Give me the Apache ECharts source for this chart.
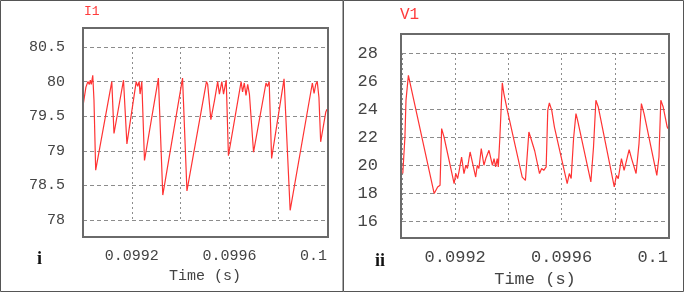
<!DOCTYPE html>
<html>
<head>
<meta charset="utf-8">
<script src="https://cdn.jsdelivr.net/npm/echarts@6/dist/echarts.min.js"></script>
<style>
  html, body { margin: 0; padding: 0; background: #fff; }
  #chart { width: 685px; height: 293px; }
</style>
</head>
<body>
<div id="chart"></div>
<script>
// I1 current trace (time in s, current)
const i1Time = [0.099000, 0.099012, 0.099020, 0.099026, 0.099030, 0.099034, 0.099040, 0.099045, 0.099052,
    0.099118, 0.099127, 0.099166, 0.099180, 0.099218, 0.099224, 0.099230, 0.099234, 0.099241, 0.099252,
    0.099309, 0.099327, 0.099408, 0.099426, 0.099506, 0.099511, 0.099524, 0.099539, 0.099552, 0.099559,
    0.099569, 0.099576, 0.099587, 0.099596, 0.099648, 0.099654, 0.099661, 0.099668, 0.099675, 0.099682,
    0.099699, 0.099750, 0.099756, 0.099763, 0.099773, 0.099824, 0.099849, 0.099940, 0.099947, 0.099954,
    0.099960, 0.099967, 0.099974, 0.099995, 0.100000];
const i1Current = [79.65, 79.92, 80.0, 79.96, 80.02, 79.96, 80.09, 79.73, 78.72,
    80.0, 79.25, 80.02, 79.1, 80.0, 79.93, 80.0, 79.82, 80.0, 78.86,
    80.05, 78.36, 80.05, 78.42, 80.0, 79.96, 79.45, 79.73, 80.0, 79.82,
    80.0, 79.82, 80.02, 78.93, 80.0, 79.85, 79.98, 79.8, 79.96, 79.82,
    78.98, 79.98, 79.93, 80.0, 78.89, 80.04, 78.14, 79.98, 79.83, 79.96,
    80.0, 79.77, 79.13, 79.56, 79.6];

// V1 voltage trace (time in s, voltage)
const v1Time = [0.099003, 0.099011, 0.099015, 0.099024, 0.099031, 0.099121, 0.099134, 0.099143, 0.099149,
    0.099158, 0.099196, 0.099202, 0.099209, 0.099215, 0.099224, 0.099233, 0.099240, 0.099246, 0.099256,
    0.099277, 0.099283, 0.099289, 0.099298, 0.099308, 0.099315, 0.099327, 0.099340, 0.099346, 0.099352,
    0.099358, 0.099362, 0.099368, 0.099377, 0.099383, 0.099396, 0.099452, 0.099464, 0.099477, 0.099483,
    0.099499, 0.099517, 0.099525, 0.099533, 0.099542, 0.099548, 0.099554, 0.099563, 0.099573, 0.099621,
    0.099629, 0.099636, 0.099645, 0.099654, 0.099660, 0.099710, 0.099720, 0.099729, 0.099738, 0.099798,
    0.099806, 0.099813, 0.099825, 0.099835, 0.099854, 0.099863, 0.099880, 0.099891, 0.099900, 0.099910,
    0.099958, 0.099966, 0.099973, 0.099982, 0.099997, 0.100000];
const v1Voltage = [19.39, 22.0, 24.62, 26.4, 25.8, 17.96, 18.43, 18.55, 22.6,
    22.0, 18.67, 19.39, 19.03, 19.6, 20.57, 19.39, 19.98, 19.75, 20.93,
    19.14, 19.98, 19.75, 21.17, 19.98, 20.46, 21.05, 19.98, 20.46, 19.86,
    20.46, 19.86, 22.0, 25.86, 25.1, 23.9, 19.14, 18.9, 22.36, 22.0,
    21.0, 19.39, 19.75, 19.62, 19.86, 23.9, 24.43, 23.9, 22.71, 18.67,
    19.39, 19.03, 21.89, 23.67, 23.2, 18.79, 21.29, 24.62, 24.14, 18.43,
    19.26, 19.03, 20.46, 19.62, 21.1, 20.46, 19.39, 21.53, 24.39, 23.67,
    19.26, 20.57, 24.62, 24.14, 22.71, 22.6];

const mono = 'Liberation Mono';
const labelColor = '#444';
const gridColor = '#8c8c8c';

const chart = echarts.init(document.getElementById('chart'));

function pairs(xs, ys) {
    return xs.map(function (x, i) { return [x, ys[i]]; });
}

// show only 0.0992, 0.0996 and 0.1
function timeLabel(v) {
    const k = Math.round(v * 1e4);
    return (k % 4 === 0 && k > 990) ? String(+v.toFixed(4)) : '';
}

function xAxisFor(idx, size, gap) {
    return {
        type: 'value',
        gridIndex: idx,
        min: 0.099,
        max: 0.1,
        interval: 0.0002,
        name: 'Time (s)',
        nameLocation: 'middle',
        nameGap: gap,
        nameTextStyle: { fontFamily: mono, fontSize: size, color: labelColor },
        axisLine: { show: false },
        axisTick: { show: false },
        axisLabel: {
            fontFamily: mono, fontSize: size, color: labelColor,
            margin: idx === 0 ? 29 : 28,
            formatter: timeLabel,
            alignMaxLabel: 'right'
        },
        splitLine: { lineStyle: { color: gridColor, type: [2, 3], width: 1 } }
    };
}

function yAxisFor(idx, min, max, interval, size, margin) {
    return {
        type: 'value',
        gridIndex: idx,
        min: min,
        max: max,
        interval: interval,
        axisLine: { show: false },
        axisTick: { show: false },
        axisLabel: { fontFamily: mono, fontSize: size, color: labelColor, margin: margin },
        splitLine: { lineStyle: { color: gridColor, type: [4, 3], width: 1 } }
    };
}

const option = {
    animation: false,
    backgroundColor: '#fff',
    title: [
        { text: 'I1', left: 84, top: 5, padding: 0,
          textStyle: { color: '#ff3b3b', fontFamily: mono, fontSize: 13, fontWeight: 'normal' } },
        { text: 'V1', left: 400, top: 7, padding: 0,
          textStyle: { color: '#ff3b3b', fontFamily: mono, fontSize: 16, fontWeight: 'normal' } }
    ],
    grid: [
        { left: 83, top: 47, width: 244, height: 173, outerBoundsMode: 'none' },
        { left: 402, top: 53, width: 266, height: 168, outerBoundsMode: 'none' }
    ],
    xAxis: [xAxisFor(0, 15, 48), xAxisFor(1, 17, 49)],
    yAxis: [yAxisFor(0, 78, 80.5, 0.5, 15, 18), yAxisFor(1, 16, 28, 2, 17, 24)],
    series: [
        {
            type: 'line', xAxisIndex: 0, yAxisIndex: 0,
            data: pairs(i1Time, i1Current),
            showSymbol: false,
            lineStyle: { color: '#ff3333', width: 1.2 }
        },
        {
            type: 'line', xAxisIndex: 1, yAxisIndex: 1,
            data: pairs(v1Time, v1Voltage),
            showSymbol: false,
            lineStyle: { color: '#ff3333', width: 1.2 }
        }
    ],
    graphic: [
        // panel borders
        { type: 'rect', z: 100, shape: { x: 0.5, y: 0.5, width: 342.5, height: 291 },
          style: { fill: null, stroke: '#555', lineWidth: 1 } },
        { type: 'rect', z: 100, shape: { x: 343.5, y: 0.5, width: 340, height: 291 },
          style: { fill: null, stroke: '#555', lineWidth: 1 } },
        // plot frames
        { type: 'rect', z: 100, shape: { x: 83, y: 28, width: 245, height: 209 },
          style: { fill: null, stroke: '#6a6a6a', lineWidth: 2 } },
        { type: 'rect', z: 100, shape: { x: 401, y: 34, width: 268, height: 204 },
          style: { fill: null, stroke: '#6a6a6a', lineWidth: 2 } },
        // panel letters
        { type: 'text', z: 100, left: 37, top: 250,
          style: { text: 'i', font: 'bold 18px "Liberation Serif"', fill: '#111' } },
        { type: 'text', z: 100, left: 375, top: 252,
          style: { text: 'ii', font: 'bold 18px "Liberation Serif"', fill: '#111' } }
    ]
};

chart.setOption(option);
</script>
</body>
</html>
